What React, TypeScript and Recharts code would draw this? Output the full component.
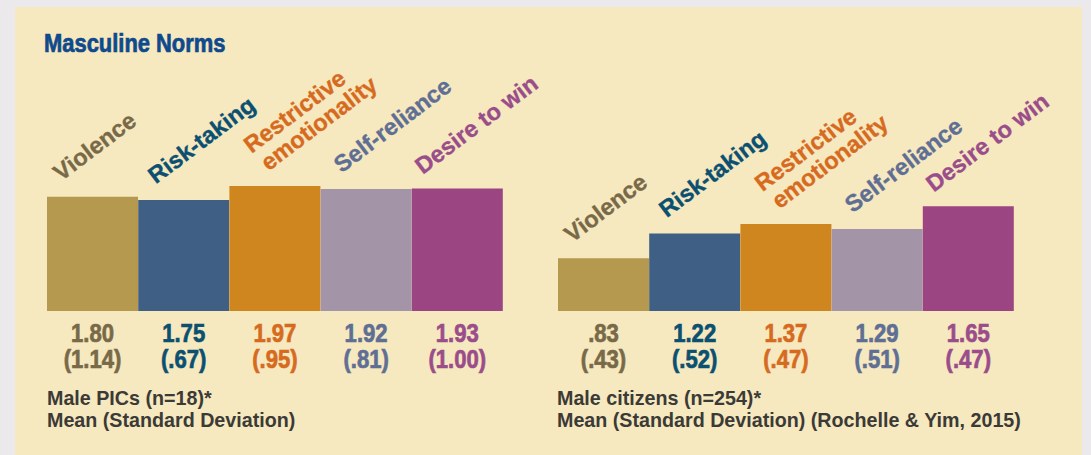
import React from 'react';
import { BarChart, Bar, XAxis, YAxis, Cell, LabelList } from 'recharts';

// ---- Data ----
const CATEGORIES = ['Violence', 'Risk-taking', 'Restrictive\nemotionality', 'Self-reliance', 'Desire to win'];
const PIC_MEANS = [1.8, 1.75, 1.97, 1.92, 1.93];
const PIC_SDS = ['(1.14)', '(.67)', '(.95)', '(.81)', '(1.00)'];
const CITIZEN_MEANS = [0.83, 1.22, 1.37, 1.29, 1.65];
const CITIZEN_SDS = ['(.43)', '(.52)', '(.47)', '(.51)', '(.47)'];
const TITLE = 'Masculine Norms';
const PIC_NOTE = ['Male PICs (n=18)*', 'Mean (Standard Deviation)'];
const CITIZEN_NOTE = ['Male citizens (n=254)*', 'Mean (Standard Deviation) (Rochelle & Yim, 2015)'];

// ---- Styles ----
const BAR_COLORS = ['#b4994f', '#3f5f85', '#d0861f', '#a394a8', '#9b4582'];
const TEXT_COLORS = ['#786a48', '#0b5070', '#d66b1f', '#5f6f94', '#9a4d8a'];
const LABEL_DX = [14, 17.5, 39, 21, 11];
const LABEL_DY = [-15, -15.3, -14.5, -15.5, -13.5];
const SANS = "'Liberation Sans', Arial, Helvetica, sans-serif";
const PLOT_W = 456;
const EXTRA_RIGHT = 90;

const fmt = (v: number) => v.toFixed(2).replace(/^0/, '');

function Panel({ means, sds, left }: { means: number[]; sds: string[]; left: number }) {
  const data = CATEGORIES.map((c, i) => ({ name: c, mean: means[i], sd: sds[i] }));

  const renderCat = (props: any) => {
    const { x, y, index } = props;
    const lines = String(CATEGORIES[index]).split('\n');
    return (
      <g transform={`translate(${x + LABEL_DX[index]},${y + LABEL_DY[index]}) rotate(-37)`}>
        <text
          fill={TEXT_COLORS[index]}
          stroke={TEXT_COLORS[index]}
          strokeWidth={0.35}
          fontFamily={SANS}
          fontSize={23.5}
          fontWeight={700}
        >
          {lines.map((ln, k) => (
            <tspan key={k} x={k === lines.length - 1 ? 0 : -3} y={(k - (lines.length - 1)) * 24}>
              {ln}
            </tspan>
          ))}
        </text>
      </g>
    );
  };

  const renderVal = (props: any) => {
    const { x, y, width, height, index } = props;
    const cx = x + width / 2;
    const bottom = y + height;
    return (
      <g transform={`translate(${cx},${bottom + 30.5}) scale(0.85,1)`}>
        <text
          textAnchor="middle"
          fill={TEXT_COLORS[index]}
          stroke={TEXT_COLORS[index]}
          strokeWidth={0.7}
          fontFamily={SANS}
          fontSize={26}
          fontWeight={700}
        >
          <tspan x={0} y={0}>{fmt(means[index])}</tspan>
          <tspan x={0} y={26.5}>{sds[index]}</tspan>
        </text>
      </g>
    );
  };

  return (
    <div style={{ position: 'absolute', left, top: 0 }}>
      <BarChart
        width={PLOT_W + EXTRA_RIGHT}
        height={455}
        data={data}
        margin={{ top: 120.5, right: EXTRA_RIGHT, bottom: 144, left: 0 }}
        barCategoryGap={0}
      >
        <XAxis dataKey="name" hide />
        <YAxis hide domain={[0, 3]} />
        <Bar dataKey="mean" isAnimationActive={false}>
          {data.map((d, i) => (
            <Cell key={i} fill={BAR_COLORS[i]} />
          ))}
          <LabelList dataKey="name" content={renderCat} />
          <LabelList dataKey="mean" content={renderVal} />
        </Bar>
      </BarChart>
    </div>
  );
}

function Note({ x, lines }: { x: number; lines: string[] }) {
  return (
    <text fill="#3b3a36" fontFamily={SANS} fontSize={19.7} fontWeight={700}>
      {lines.map((ln, k) => (
        <tspan key={k} x={x} y={405 + k * 21.5}>{ln}</tspan>
      ))}
    </text>
  );
}

export default function App() {
  return (
    <div style={{ position: 'absolute', left: 0, top: 0, width: 1091, height: 455, background: '#ebe9ec', overflow: 'hidden' }}>
      <div style={{ position: 'absolute', left: 15, top: 7, width: 1067, height: 448, background: '#f6e8bf' }} />
      <svg width={1091} height={455} style={{ position: 'absolute', left: 0, top: 0 }}>
        <g transform="translate(44,51.5) scale(0.86,1)">
          <text x={0} y={0} fill="#0f4a8c" stroke="#0f4a8c" strokeWidth={0.7} fontFamily={SANS} fontSize={25.5} fontWeight={700}>
            {TITLE}
          </text>
        </g>
        <Note x={47} lines={PIC_NOTE} />
        <Note x={557} lines={CITIZEN_NOTE} />
      </svg>
      <Panel means={PIC_MEANS} sds={PIC_SDS} left={47} />
      <Panel means={CITIZEN_MEANS} sds={CITIZEN_SDS} left={557.5} />
    </div>
  );
}
